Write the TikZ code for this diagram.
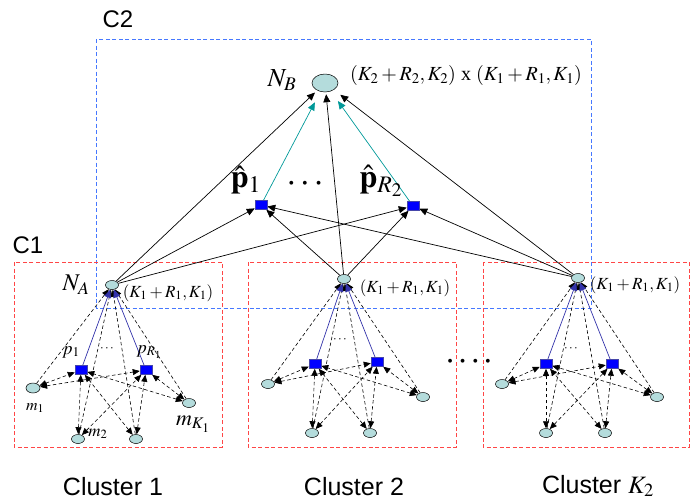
\documentclass[tikz,border=0pt]{standalone}
\usepackage{mathptmx}
\usepackage{fontspec}
\setmainfont{Liberation Serif}
\setsansfont{Liberation Sans}
\usetikzlibrary{arrows.meta,shapes.geometric}
\pgfdeclarelayer{bg}
\pgfsetlayers{bg,main}
\definecolor{ellfill}{RGB}{180,220,220}
\definecolor{sqblue}{RGB}{0,0,255}
\definecolor{sqborder}{RGB}{70,70,170}
\definecolor{arrblue}{RGB}{51,51,170}
\definecolor{tealc}{RGB}{0,153,153}
\definecolor{boxred}{RGB}{255,70,70}
\definecolor{boxblue}{RGB}{70,120,255}
\begin{document}
\begin{tikzpicture}[x=1pt,y=-1pt,
  ell/.style={ellipse, draw=black, line width=0.5pt, fill=ellfill, inner sep=0pt, minimum width=13pt, minimum height=9pt},
  bigell/.style={ell, minimum width=26pt, minimum height=18pt},
  sq/.style={rectangle, draw=sqborder, line width=0.5pt, fill=sqblue, inner sep=0pt, minimum width=12pt, minimum height=9pt},
  arr/.style={line width=0.7pt, -{Triangle[length=8pt,width=7pt]}},
  tealarr/.style={arr, draw=tealc},
  bluearr/.style={line width=0.7pt, draw=arrblue, -{Triangle[length=8pt,width=7pt]}},
  dsh/.style={line width=0.6pt, dash pattern=on 3.5pt off 2.5pt, -{Triangle[length=7pt,width=6pt]}},
  dshboth/.style={line width=0.6pt, dash pattern=on 3.5pt off 2.5pt, {Triangle[length=7pt,width=6pt]}-{Triangle[length=7pt,width=6pt]}},
  redbox/.style={draw=boxred, line width=1pt, dash pattern=on 4pt off 2.5pt},
  bluebox/.style={draw=boxblue, line width=0.8pt, dash pattern=on 4pt off 2.5pt},
  lab/.style={inner sep=0pt},
  f13/.style={lab, font=\fontsize{13}{13}\selectfont},
  f16/.style={lab, font=\fontsize{16}{16}\selectfont},
  f17/.style={lab, font=\fontsize{17}{17}\selectfont},
  f18/.style={lab, font=\fontsize{18}{18}\selectfont},
  f20/.style={lab, font=\fontsize{20}{20}\selectfont},
  f22/.style={lab, font=\fontsize{22}{22}\selectfont},
  f24/.style={lab, font=\fontsize{24}{24}\selectfont},
  f26/.style={lab, font=\fontsize{26}{26}\selectfont},
  f32/.style={lab, font=\fontsize{32}{32}\selectfont},
  sf24/.style={lab, font=\sffamily\fontsize{24}{24}\selectfont},
  sf25/.style={lab, font=\sffamily\fontsize{25}{25}\selectfont},
  bul/.style={lab, font=\fontsize{16}{16}\selectfont}
]
\useasboundingbox (0,0) rectangle (700,501);

% ---------- top level ----------
\node[bigell] (NB) at (325,83) {};
\node[f26] (NBl) at (282,80) {$N_B$};
\node[f20] (toplab) at (466,75) {$(K_2+R_2,K_2)$ x $(K_1+R_1,K_1)$};
\node[sq] (ph1) at (261,205) {};
\node[sq] (ph2) at (413,206) {};
\node[f32] (ph1l) at (246,180) {$\hat{\mathbf{p}}_1$};
\node[f32] (ph2l) at (381,181) {$\hat{\mathbf{p}}_{R_2}$};
\node[bul] (tdots) at (305,185) {\textbullet\hspace{8pt}\textbullet\hspace{8pt}\textbullet};

% ---------- cluster 1 ----------
\node[ell] (a-top) at (112,285) {};
\node[sq] (a-s1) at (81,370) {};
\node[sq] (a-s2) at (146,370) {};
\node[ell, minimum width=14pt, minimum height=10pt] (a-mL) at (33,388) {};
\node[ell] (a-mB1) at (78,439) {};
\node[ell] (a-mB2) at (136,439) {};
\node[ell] (a-mR) at (189,403) {};
\node[f24] (a-NA) at (76,285) {$N_A$};
\node[f17] (a-K) at (168,293) {$(K_1+R_1,K_1)$};
\node[f18] (a-p1) at (71,352) {$p_1$};
\node[f18] (a-pR) at (149,352) {$p_{R_1}$};
\node[f13] (a-dots) at (107,349) {$\cdots$};
\node[f16] (a-m1) at (35,408) {$m_1$};
\node[f17] (a-m2) at (98,434) {$m_2$};
\node[f22] (a-mK) at (193,424) {$m_{K_1}$};

% ---------- cluster 2 ----------
\node[ell] (b-top) at (344,279) {};
\node[sq] (b-s1) at (315,364) {};
\node[sq] (b-s2) at (377,362) {};
\node[ell] (b-mL) at (268,384) {};
\node[ell] (b-mB1) at (312,433) {};
\node[ell] (b-mB2) at (370,433) {};
\node[ell] (b-mR) at (423,397) {};
\node[f17] (b-K) at (405,288) {$(K_1+R_1,K_1)$};
\node[f13] (b-dots) at (340,340) {$\cdots$};

% ---------- cluster K2 ----------
\node[ell] (c-top) at (578,278) {};
\node[sq] (c-s1) at (546,364) {};
\node[sq] (c-s2) at (612,364) {};
\node[ell] (c-mL) at (502,384) {};
\node[ell] (c-mB1) at (546,433) {};
\node[ell] (c-mB2) at (605,433) {};
\node[ell] (c-mR) at (657,397) {};
\node[f17] (c-K) at (635,285) {$(K_1+R_1,K_1)$};
\node[f13] (c-dots) at (571,349) {$\cdots$};

% ---------- between clusters ----------
\node[bul] (mdots) at (469,363) {\textbullet\hspace{7pt}\textbullet\hspace{7pt}\textbullet\hspace{7pt}\textbullet};

% ---------- labels ----------
\node[sf24] (C1) at (28,245) {C1};
\node[sf24] (C2) at (118,19) {C2};
\node[sf25] (cl1) at (113,487) {Cluster 1};
\node[sf25] (cl2) at (354,487) {Cluster 2};
\node[sf25] (cl3) at (598,486) {Cluster $K_2$};

% ---------- boxes and connectors ----------
\begin{pgfonlayer}{bg}
\draw[bluebox] (96,39) rectangle (591,308);
\draw[redbox] (14,262) rectangle (222,447);
\draw[redbox] (248,262) rectangle (456,447);
\draw[redbox] (483,262) rectangle (689,447);
\foreach \q in {a,b,c}{
  \foreach \m in {mL,mB1,mB2,mR}{
    \draw[dshboth] (\q-\m) -- (\q-s1);
    \draw[dshboth] (\q-\m) -- (\q-s2);
    \draw[dsh] (\q-\m) -- (\q-top);
  }
  \draw[bluearr] (\q-s1) -- (\q-top);
  \draw[bluearr] (\q-s2) -- (\q-top);
  \draw[arr] (\q-top) -- (ph1);
  \draw[arr] (\q-top) -- (ph2);
}
\draw[arr, shorten >=3pt] (a-top) -- (NB);
\draw[arr, shorten >=2pt] (b-top) -- (NB);
\draw[arr, shorten >=8pt] (c-top) -- (NB);
\draw[tealarr, shorten >=12pt] (ph1) -- (NB);
\draw[tealarr, shorten >=12pt] (ph2) -- (NB);
\end{pgfonlayer}
\end{tikzpicture}
\end{document}
